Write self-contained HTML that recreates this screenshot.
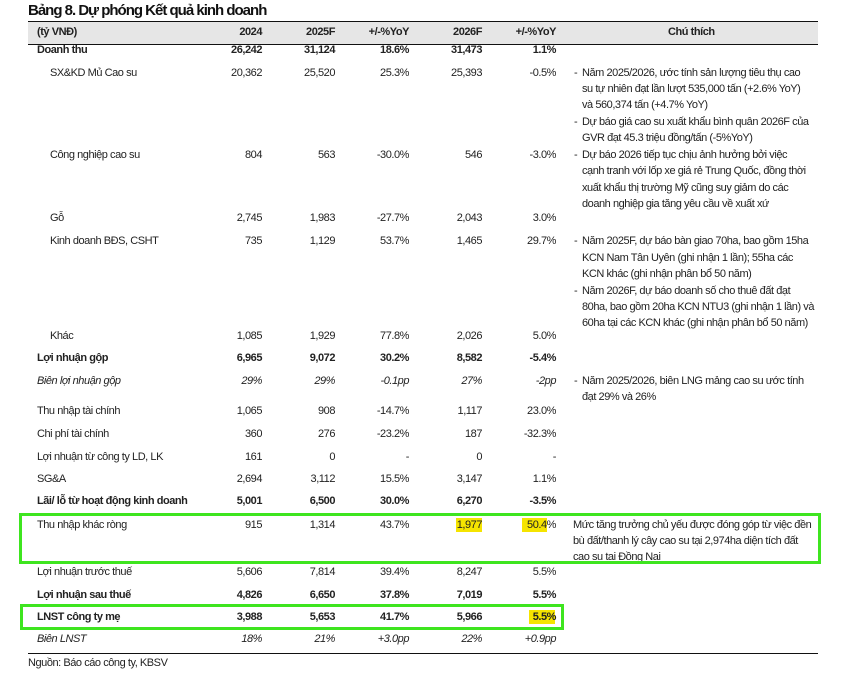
<!DOCTYPE html>
<html><head><meta charset="utf-8"><style>
body{margin:0;width:841px;height:674px;background:#fff;position:relative;overflow:hidden;font-family:"Liberation Sans",sans-serif;font-size:11px;color:#222;}
div{position:absolute;white-space:nowrap;}
.t{line-height:14px;letter-spacing:-0.45px;}
.r{text-align:right;}
.b{font-weight:bold;}
.i{font-style:italic;}
.hl{background:#f5e400;}
</style></head><body>
<div style="left:28px;top:2px;font-size:15px;font-weight:bold;letter-spacing:-1px;color:#111">Bảng 8. Dự phóng Kết quả kinh doanh</div>
<div style="left:28px;top:21px;width:790px;height:22px;background:#e6e6e6;border-top:1.5px solid #111;border-bottom:1.5px solid #111"></div>
<div class="t b" style="left:37px;top:25px">(tỷ VNĐ)</div>
<div class="t b r" style="left:200px;width:62px;top:25px">2024</div>
<div class="t b r" style="left:270px;width:65px;top:25px">2025F</div>
<div class="t b r" style="left:340px;width:69px;top:25px">+/-%YoY</div>
<div class="t b r" style="left:420px;width:62px;top:25px">2026F</div>
<div class="t b r" style="left:490px;width:66px;top:25px">+/-%YoY</div>
<div class="t b" style="left:668px;top:25px">Chú thích</div>

<div style="left:456px;top:518px;width:26px;height:14px" class="hl"></div>
<div style="left:522px;top:518px;width:25px;height:14px" class="hl"></div>
<div style="left:529px;top:610px;width:26px;height:14px" class="hl"></div>

<div id="rows"></div>
<script>
var rows=[
[43,"Doanh thu","26,242","31,124","18.6%","31,473","1.1%","b",37],
[66,"SX&KD Mủ Cao su","20,362","25,520","25.3%","25,393","-0.5%","",50],
[148,"Công nghiệp cao su","804","563","-30.0%","546","-3.0%","",50],
[211,"Gỗ","2,745","1,983","-27.7%","2,043","3.0%","",50],
[234,"Kinh doanh BĐS, CSHT","735","1,129","53.7%","1,465","29.7%","",50],
[329,"Khác","1,085","1,929","77.8%","2,026","5.0%","",50],
[351,"Lợi nhuận gộp","6,965","9,072","30.2%","8,582","-5.4%","b",37],
[374,"Biên lợi nhuận gộp","29%","29%","-0.1pp","27%","-2pp","i",37],
[404,"Thu nhập tài chính","1,065","908","-14.7%","1,117","23.0%","",37],
[427,"Chi phí tài chính","360","276","-23.2%","187","-32.3%","",37],
[450,"Lợi nhuận từ công ty LD, LK","161","0","-","0","-","",37],
[472,"SG&A","2,694","3,112","15.5%","3,147","1.1%","",37],
[494,"Lãi/ lỗ từ hoạt động kinh doanh","5,001","6,500","30.0%","6,270","-3.5%","b",37],
[518,"Thu nhập khác ròng","915","1,314","43.7%","1,977","50.4%","",37],
[565,"Lợi nhuận trước thuế","5,606","7,814","39.4%","8,247","5.5%","",37],
[588,"Lợi nhuận sau thuế","4,826","6,650","37.8%","7,019","5.5%","b",37],
[610,"LNST công ty mẹ","3,988","5,653","41.7%","5,966","5.5%","b",37],
[632,"Biên LNST","18%","21%","+3.0pp","22%","+0.9pp","i",37]];
var h="",R=[262,335,409,482,556];
rows.forEach(function(r){
 var c="t "+r[7];
 h+='<div class="'+c+'" style="left:'+r[8]+'px;top:'+r[0]+'px">'+r[1].replace(/&/g,"&amp;")+'</div>';
 for(var k=0;k<5;k++)h+='<div class="'+c+' r" style="left:'+(R[k]-80)+'px;width:80px;top:'+r[0]+'px">'+r[2+k]+'</div>';
});
var notes=[
[66,1,"Năm 2025/2026, ước tính sản lượng tiêu thụ cao"],[82,0,"su tự nhiên đạt lần lượt  535,000 tấn (+2.6% YoY)"],[98,0,"và 560,374 tấn (+4.7% YoY)"],
[115,1,"Dự báo giá cao su xuất khẩu bình quân 2026F của"],[131,0,"GVR đạt 45.3 triệu đồng/tấn (-5%YoY)"],
[148,1,"Dự báo 2026 tiếp tục chịu ảnh hưởng bởi  việc"],[164,0,"cạnh tranh với lốp xe giá rẻ Trung Quốc, đồng thời"],[181,0,"xuất khẩu thị trường Mỹ cũng suy giảm do các"],[197,0,"doanh nghiệp gia tăng yêu cầu về xuất xứ"],
[234,1,"Năm 2025F, dự báo bàn giao 70ha, bao gồm 15ha"],[251,0,"KCN Nam Tân Uyên (ghi nhận 1 lần); 55ha các"],[267,0,"KCN khác (ghi nhận phân bổ 50 năm)"],
[284,1,"Năm 2026F, dự báo doanh số cho thuê đất đạt"],[300,0,"80ha, bao gồm 20ha KCN NTU3 (ghi nhận 1 lần) và"],[316,0,"60ha tại các KCN khác (ghi nhận phân bổ 50 năm)"],
[374,1,"Năm 2025/2026, biên LNG mảng cao su ước tính"],[390,0,"đạt 29% và 26%"],
[518,2,"Mức tăng trưởng chủ yếu được đóng góp từ việc đền"],[534,2,"bù đất/thanh lý cây cao su tại 2,974ha diện tích đất"],[550,2,"cao su tai Đồng Nai"]];
notes.forEach(function(n){
 if(n[1]==1)h+='<div class="t" style="left:574px;top:'+n[0]+'px">-</div>';
 h+='<div class="t" style="left:'+(n[1]==2?573:582)+'px;top:'+n[0]+'px">'+n[2]+'</div>';
});
document.getElementById("rows").innerHTML=h;
</script>

<div style="left:19px;top:513px;width:796px;height:45px;border:3px solid #3ee51f"></div>
<div style="left:20px;top:604px;width:538px;height:20px;border:3px solid #3ee51f"></div>
<div style="left:28px;top:653px;width:790px;height:0;border-top:1.2px solid #111"></div>
<div class="t" style="left:28px;top:656px;color:#222">Nguồn: Báo cáo công ty, KBSV</div>
</body></html>
